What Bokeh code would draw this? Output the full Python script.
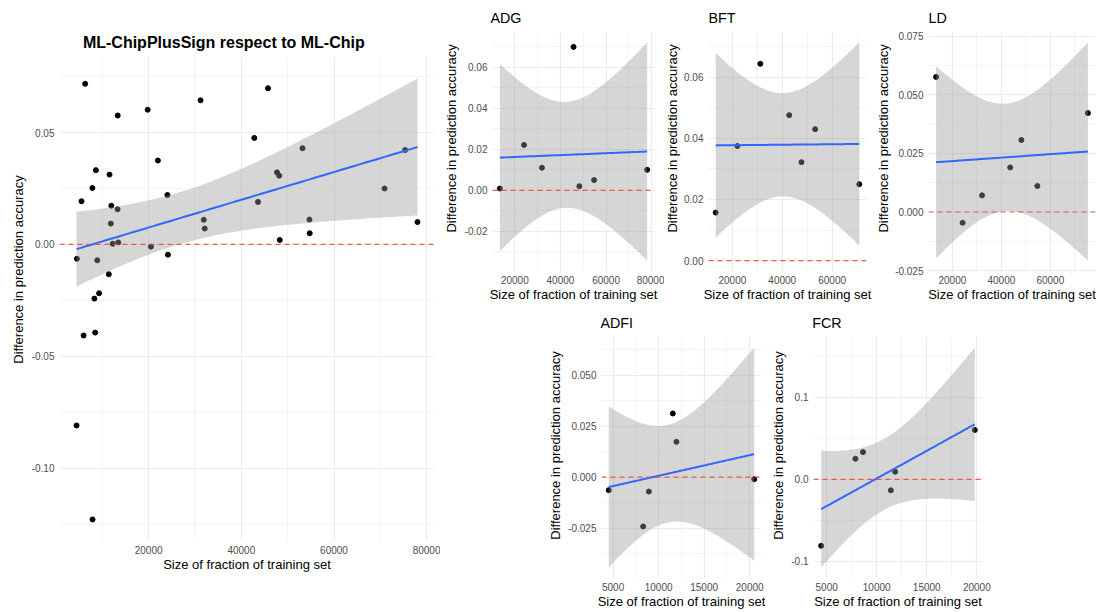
import numpy as np
from bokeh.plotting import figure
from bokeh.layouts import row, column
from bokeh.models import FixedTicker, Spacer, Span, Range1d, NumeralTickFormatter
from bokeh.core.properties import value
from bokeh.embed import file_html
from bokeh.resources import INLINE

# Training-set size and difference in prediction accuracy, per trait
adg_size = [13450, 24050, 31900, 45750, 48300, 54750, 78000]
adg_diff = [0.0009, 0.0221, 0.0110, 0.0698, 0.0020, 0.0050, 0.0100]
bft_size = [13300, 22000, 31200, 42800, 47700, 53200, 70900]
bft_diff = [0.0157, 0.0375, 0.0644, 0.0476, 0.0322, 0.0430, 0.0250]
ld_size = [13330, 24170, 32100, 43600, 48170, 54700, 75350]
ld_diff = [0.0576, -0.0046, 0.0071, 0.0190, 0.0307, 0.0111, 0.0422]
adfi_size = [4525, 8300, 8930, 11560, 11955, 20500]
adfi_diff = [-0.0064, -0.0242, -0.0071, 0.0312, 0.0173, -0.0010]
fcr_size = [4450, 7870, 8630, 11410, 11840, 19800]
fcr_diff = [-0.0809, 0.0252, 0.0332, -0.0133, 0.0093, 0.0602]
other_size = [5521, 5971, 6309, 7896, 8463, 9320, 12258]
other_diff = [0.0193, -0.0407, 0.0718, -0.1229, -0.0394, -0.0218, 0.0003]

all_size = adg_size + bft_size + ld_size + adfi_size + fcr_size + other_size
all_diff = adg_diff + bft_diff + ld_diff + adfi_diff + fcr_diff + other_diff

# Tick positions (major, minor)
main_xticks, main_xminor = [20000, 40000, 60000, 80000], [10000, 30000, 50000, 70000]
main_yticks, main_yminor = [-0.10, -0.05, 0.0, 0.05], [-0.125, -0.075, -0.025, 0.025, 0.075]
big_xticks, big_xminor = [20000, 40000, 60000, 80000], [10000, 30000, 50000, 70000]
small_xticks, small_xminor = [5000, 10000, 15000, 20000], [7500, 12500, 17500]
adg_yticks, adg_yminor = [-0.02, 0.0, 0.02, 0.04, 0.06], [-0.03, -0.01, 0.01, 0.03, 0.05, 0.07]
bft_yticks, bft_yminor = [0.0, 0.02, 0.04, 0.06], [0.01, 0.03, 0.05, 0.07]
ld_yticks, ld_yminor = [-0.025, 0.0, 0.025, 0.05, 0.075], [-0.0125, 0.0125, 0.0375, 0.0625]
adfi_yticks, adfi_yminor = [-0.025, 0.0, 0.025, 0.05], [-0.0375, -0.0125, 0.0125, 0.0375, 0.0625]
fcr_yticks, fcr_yminor = [-0.1, 0.0, 0.1], [-0.05, 0.05, 0.15]

MAIN_TITLE = "ML-ChipPlusSign respect to ML-Chip"
XLABEL = "Size of fraction of training set"
YLABEL = "Difference in prediction accuracy"
FONT = "Liberation Sans"
# the text glyph sits this many pixels below the requested baseline
BASELINE_SHIFT = 5

# 97.5% Student-t quantiles by residual degrees of freedom
T_975 = {4: 2.776445, 5: 2.570582, 38: 2.024394}


def lm_band(x, y):
    """Least-squares line with its 95% confidence band, evaluated on 80 points."""
    x = np.asarray(x, float)
    y = np.asarray(y, float)
    n = len(x)
    slope, icpt = np.polyfit(x, y, 1)
    resid = y - (icpt + slope * x)
    s = np.sqrt(np.sum(resid ** 2) / (n - 2))
    xm = x.mean()
    sxx = np.sum((x - xm) ** 2)
    gx = np.linspace(x.min(), x.max(), 80)
    fit = icpt + slope * gx
    se = s * np.sqrt(1.0 / n + (gx - xm) ** 2 / sxx)
    tq = T_975[n - 2]
    return gx, fit, fit - tq * se, fit + tq * se


def text_box(width, height, x, y, text, size, bold=False, align="left", angle=0.0):
    """A bare pixel-unit canvas holding a single piece of text."""
    t = figure(width=width, height=height, x_range=Range1d(0, width),
               y_range=Range1d(0, height), x_axis_type=None, y_axis_type=None,
               min_border=0, output_backend="svg", toolbar_location=None)
    t.outline_line_color = None
    t.background_fill_color = "white"
    t.border_fill_color = "white"
    t.text(x=[x], y=[y], text=[text], angle=angle,
           text_font=value(FONT), text_font_size=value(size),
           text_font_style="bold" if bold else "normal",
           text_color="black", text_align=align, text_baseline="alphabetic")
    return t


def plot_area(xs, ys, width, height, borders, xt, xm, yt, ym, yfmt):
    gx, fit, lo, hi = lm_band(xs, ys)
    x0, x1 = min(xs), max(xs)
    xpad = 0.05 * (x1 - x0)
    yall = np.concatenate([ys, lo, hi, [0.0]])
    y0, y1 = yall.min(), yall.max()
    ypad = 0.05 * (y1 - y0)
    left, right, top, bottom = borders
    p = figure(width=width, height=height,
               x_range=Range1d(x0 - xpad, x1 + xpad),
               y_range=Range1d(y0 - ypad, y1 + ypad),
               output_backend="svg", toolbar_location=None,
               min_border_left=left, min_border_right=right,
               min_border_top=top, min_border_bottom=bottom)
    p.outline_line_color = None
    p.background_fill_color = "white"
    p.border_fill_color = "white"

    p.xaxis.ticker = FixedTicker(ticks=xt, minor_ticks=xm)
    p.yaxis.ticker = FixedTicker(ticks=yt, minor_ticks=ym)
    p.xaxis.formatter = NumeralTickFormatter(format="0")
    p.yaxis.formatter = NumeralTickFormatter(format=yfmt)
    for ax in (p.xaxis[0], p.yaxis[0]):
        ax.axis_line_color = None
        ax.major_tick_line_color = None
        ax.minor_tick_line_color = None
        ax.major_tick_out = 0
        ax.major_tick_in = 0
        ax.minor_tick_out = 0
        ax.minor_tick_in = 0
        ax.major_label_text_font = FONT
        ax.major_label_text_font_size = "10px"
        ax.major_label_text_color = "#4d4d4d"
    p.xaxis.major_label_standoff = 4
    p.yaxis.major_label_standoff = 5
    p.xaxis.axis_label = XLABEL
    p.xaxis.axis_label_standoff = 0
    p.xaxis.axis_label_text_font = FONT
    p.xaxis.axis_label_text_font_size = "13px"
    p.xaxis.axis_label_text_font_style = "normal"
    p.xaxis.axis_label_text_color = "black"
    for g in (p.xgrid[0], p.ygrid[0]):
        g.grid_line_color = "#EBEBEB"
        g.grid_line_width = 1.1
        g.minor_grid_line_color = "#EBEBEB"
        g.minor_grid_line_width = 0.55

    # points first, the band is laid over them
    p.scatter(xs, ys, size=5, color="black")
    p.varea(x=gx, y1=lo, y2=hi, fill_color="#999999", fill_alpha=0.4)
    p.line(gx, fit, line_color="#3366FF", line_width=2)
    p.add_layout(Span(location=0, dimension="width", line_color="#F24A3A",
                      line_alpha=0.9, line_width=1.2, line_dash="5 4"))
    return p


def panel(title, xs, ys, ylab_w, plot_w, title_h, plot_h, borders, ticks, yfmt,
          title_x, title_base, ylab_x, title_size="14.3px", bold=False, align="left"):
    """Title strip above, rotated axis title at left, plot area at right."""
    xt, xm, yt, ym = ticks
    left, right, top, bottom = borders
    head = text_box(ylab_w + plot_w, title_h, title_x, title_base + BASELINE_SHIFT,
                    title, title_size, bold=bold, align=align)
    frame_mid = plot_h - (top + (plot_h - top - bottom) / 2.0)
    side = text_box(ylab_w, plot_h, ylab_x - BASELINE_SHIFT, frame_mid, YLABEL, "13px",
                    align="center", angle=np.pi / 2)
    body = plot_area(xs, ys, plot_w, plot_h, borders, xt, xm, yt, ym, yfmt)
    return column(head, row(side, body))


main = panel(MAIN_TITLE, all_size, all_diff, 28, 412, 53, 559, (29, 6, 3, 71),
             (main_xticks, main_xminor, main_yticks, main_yminor), "0.00",
             title_x=223.3, title_base=6, ylab_x=22.8, title_size="16px",
             bold=True, align="center")

adg = panel("ADG", adg_size, adg_diff, 21, 203, 25, 283, (29, 10, 6, 37),
            (big_xticks, big_xminor, adg_yticks, adg_yminor), "0.00",
            title_x=50, title_base=3, ylab_x=16)
bft = panel("BFT", bft_size, bft_diff, 17, 193, 25, 283, (26, 8, 6, 37),
            (big_xticks, big_xminor, bft_yticks, bft_yminor), "0.00",
            title_x=44, title_base=3, ylab_x=12.5)
ld = panel("LD", ld_size, ld_diff, 18, 206, 25, 283, (35, 3, 6, 37),
           (big_xticks, big_xminor, ld_yticks, ld_yminor), "0.000",
           title_x=54, title_base=3, ylab_x=14)
adfi = panel("ADFI", adfi_size, adfi_diff, 25, 200, 22, 282, (34, 4, 6, 34),
             (small_xticks, small_xminor, adfi_yticks, adfi_yminor), "0.000",
             title_x=60, title_base=3, ylab_x=19.5)
fcr = panel("FCR", fcr_size, fcr_diff, 23, 204, 22, 282, (24, 10, 6, 34),
            (small_xticks, small_xminor, fcr_yticks, fcr_yminor), "0.0",
            title_x=46.7, title_base=3, ylab_x=18)

right = column(row(adg, bft, ld),
               row(Spacer(width=100, height=304), adfi, fcr, Spacer(width=106, height=304)))
layout = row(main, right)

with open("out.html", "w") as f:
    f.write(file_html(layout, INLINE))
